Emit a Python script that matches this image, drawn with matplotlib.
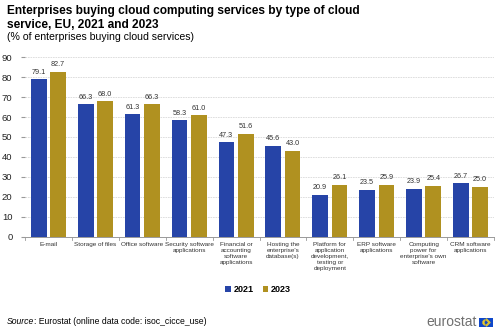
import matplotlib
matplotlib.use("Agg")
import matplotlib.pyplot as plt
import numpy as np
from matplotlib.patches import Rectangle

categories = [
    "E-mail",
    "Storage of files",
    "Office software",
    "Security software\napplications",
    "Financial or\naccounting\nsoftware\napplications",
    "Hosting the\nenterprise's\ndatabase(s)",
    "Platform for\napplication\ndevelopment,\ntesting or\ndeployment",
    "ERP software\napplications",
    "Computing\npower for\nenterprise's own\nsoftware",
    "CRM software\napplications",
]
values_2021 = [79.1, 66.3, 61.3, 58.3, 47.3, 45.6, 20.9, 23.5, 23.9, 26.7]
values_2023 = [82.7, 68.0, 66.3, 61.0, 51.6, 43.0, 26.1, 25.9, 25.4, 25.0]
y_ticks = [0, 10, 20, 30, 40, 50, 60, 70, 80, 90]

BLUE = "#2644A7"
GOLD = "#B09120"

plt.rcParams["font.family"] = ["Liberation Sans", "DejaVu Sans"]

fig = plt.figure(figsize=(5.0, 3.31), dpi=100)
W, H = 500, 331
ax = fig.add_axes([25 / W, 1 - 236.5 / H, (494 - 25) / W, (236.5 - 57.3) / H])

x = np.arange(len(categories))
w = 0.335
off = 0.205
b1 = ax.bar(x - off, values_2021, w, color=BLUE, label="2021", zorder=3)
b2 = ax.bar(x + off, values_2023, w, color=GOLD, label="2023", zorder=3)

for bars, vals in ((b1, values_2021), (b2, values_2023)):
    for rect, v in zip(bars, vals):
        ax.annotate(f"{v:.1f}", (rect.get_x() + rect.get_width() / 2, v),
                    xytext=(0, 2.5), textcoords="offset points",
                    ha="center", va="bottom", fontsize=5.2, color="#333333")

ax.set_xlim(-0.5, len(categories) - 0.5)
ax.set_ylim(0, 90)
ax.set_yticks(y_ticks)
ax.tick_params(axis="y", labelsize=6.8, length=3, color="#999999", pad=6, colors="#222222")
ax.yaxis.grid(True, color="#d9d9d9", linestyle=(0, (2, 1)), linewidth=0.6, zorder=0)

ax.set_xticks(x)
ax.set_xticklabels(categories, fontsize=4.6, color="#333333", linespacing=1.25, va="top")
ax.tick_params(axis="x", length=0, pad=4)
# separators between categories
for b in np.arange(-0.5, len(categories), 1.0):
    ax.plot([b, b], [0, -1.6], color="#999999", lw=0.6, clip_on=False, zorder=4)

for s in ("top", "right", "left"):
    ax.spines[s].set_visible(False)
ax.spines["bottom"].set_color("#999999")
ax.spines["bottom"].set_linewidth(0.7)

fig.text(7 / W, 1 - 18 / H,
         "Enterprises buying cloud computing services by type of cloud\nservice, EU, 2021 and 2023",
         fontsize=8.6, fontweight="bold", va="center", ha="left", linespacing=1.15)
fig.text(7 / W, 1 - 37 / H, "(% of enterprises buying cloud services)",
         fontsize=7.6, va="center", ha="left")

leg = fig.legend(handles=[b1, b2], labels=["2021", "2023"], loc="center",
                 bbox_to_anchor=(258 / W, 1 - 289.5 / H), ncol=2, frameon=False,
                 prop={"weight": "bold", "size": 6.5}, handlelength=0.6,
                 handleheight=0.6, handletextpad=0.3, columnspacing=1.0)

src = fig.text(7 / W, 1 - 322 / H, "Source", fontsize=6.2, style="italic",
               va="center", ha="left")
fig.canvas.draw()
bb = src.get_window_extent(renderer=fig.canvas.get_renderer())
fig.text(bb.x1 / fig.bbox.width, 1 - 322 / H,
         ": Eurostat (online data code: isoc_cicce_use)",
         fontsize=6.2, va="center", ha="left")

fig.text(477 / W, 1 - 322 / H, "eurostat", fontsize=10, color="#707070",
         va="center", ha="right")
fig.add_artist(Rectangle((479 / W, 1 - 326.5 / H), 13.5 / W, 9 / H,
                         transform=fig.transFigure, facecolor="#0E47CB",
                         edgecolor="none"))
ang = np.linspace(0, 2 * np.pi, 12, endpoint=False)
fig.add_artist(plt.Line2D(485.75 / W + 2.8 / W * np.cos(ang),
                          1 - 322 / H + 2.8 / H * np.sin(ang),
                          transform=fig.transFigure, linestyle="none",
                          marker=".", markersize=1.0, color="#FFD617"))

fig.savefig("out.png", dpi=100)
